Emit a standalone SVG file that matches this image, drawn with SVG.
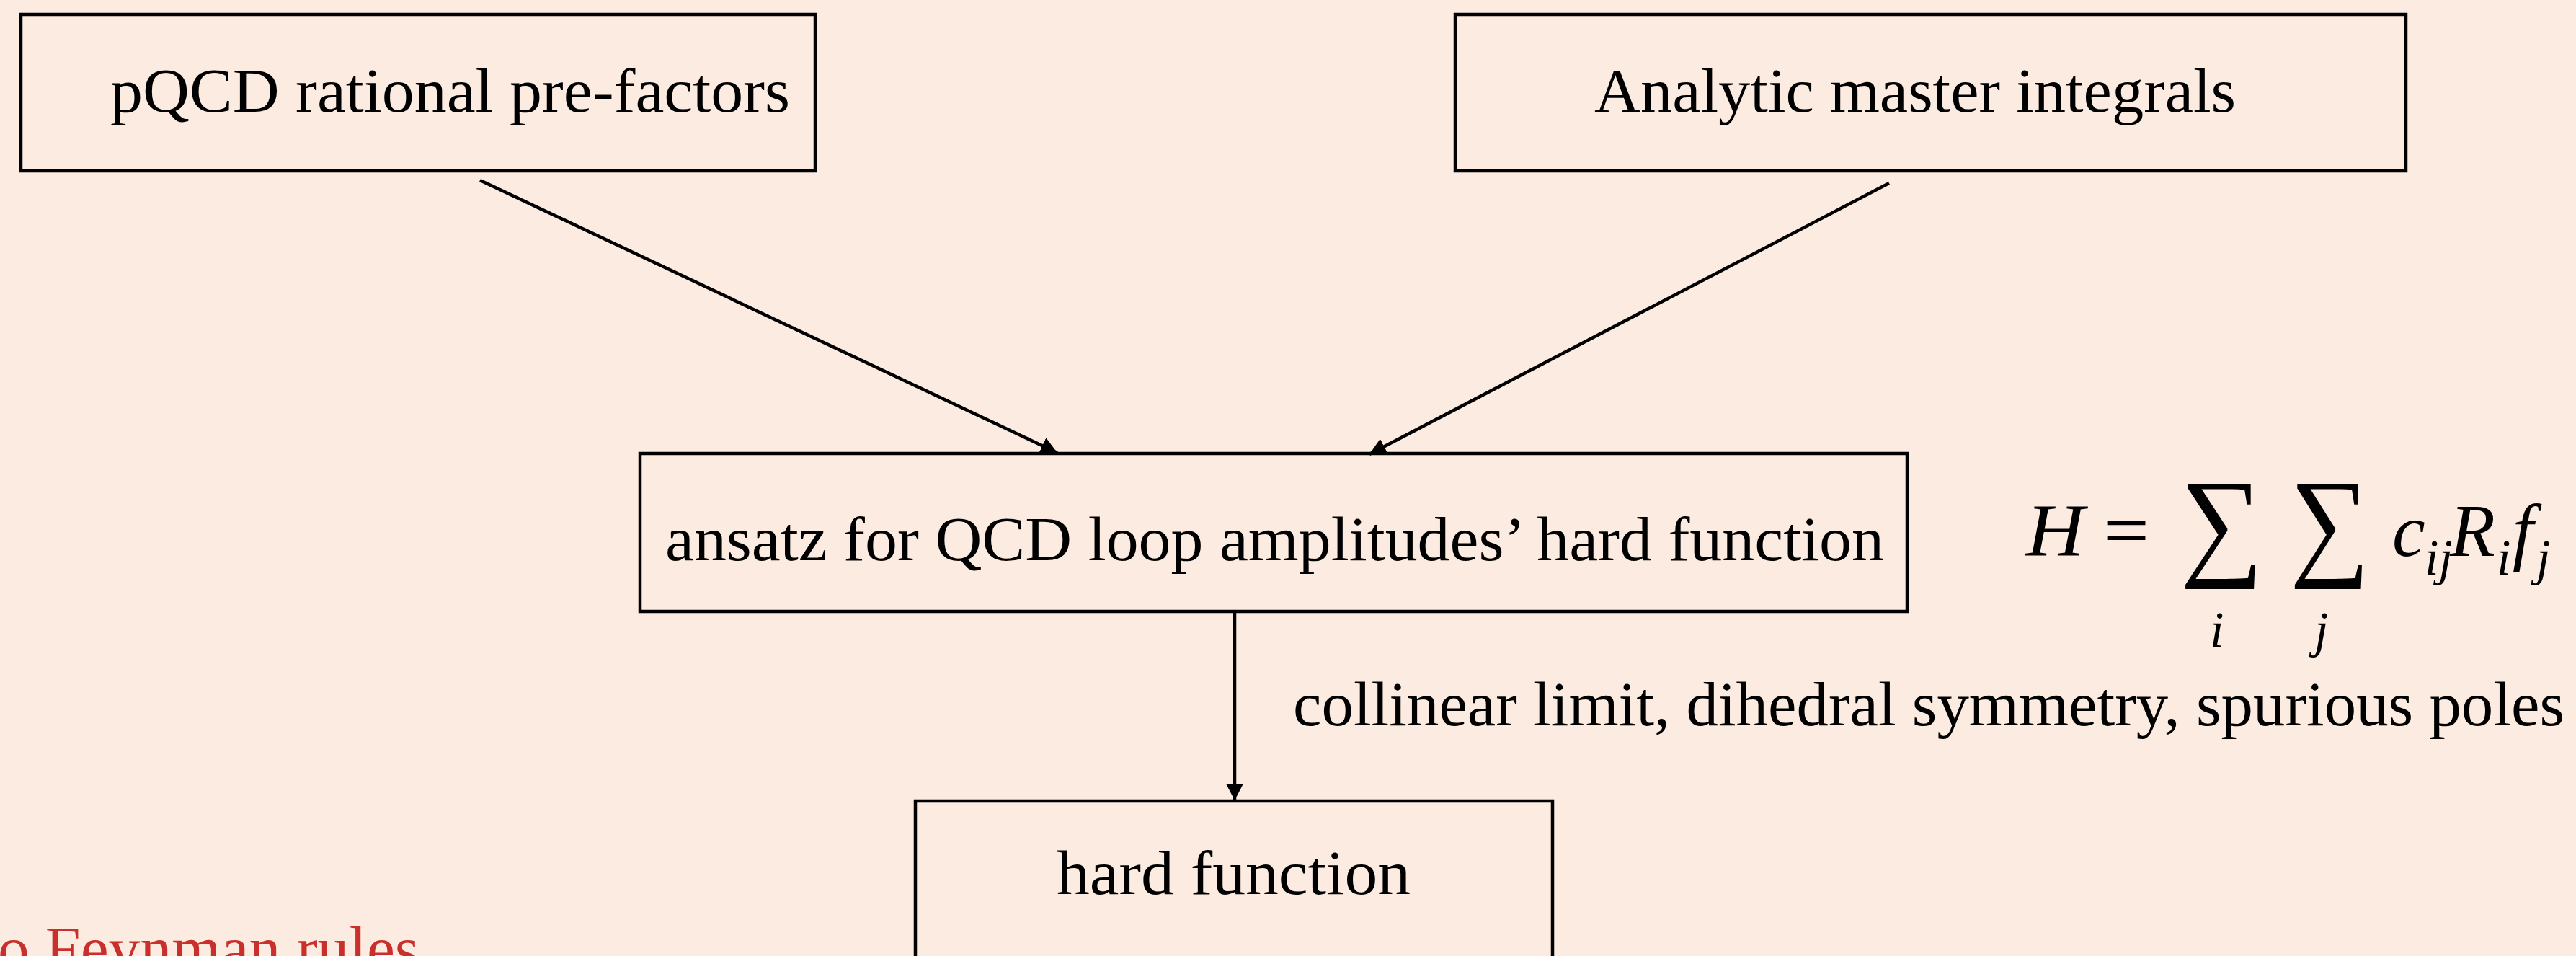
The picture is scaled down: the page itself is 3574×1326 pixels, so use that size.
<svg xmlns="http://www.w3.org/2000/svg" width="3574" height="1326" viewBox="0 0 3574 1326">
  <defs>
    <marker id="arrow" markerUnits="userSpaceOnUse" markerWidth="24" markerHeight="24" refX="23" refY="12" orient="auto" viewBox="0 0 24 24">
      <path d="M0,0 L23,12 L0,24 z" fill="#000"/>
    </marker>
    <style>
      .box { fill: none; stroke: #000; stroke-width: 4.5; }
      .lbl { font-family: "Liberation Serif", "Times New Roman", serif; font-size: 86px; fill: #000; }
      .edge { stroke: #000; stroke-width: 4.5; fill: none; marker-end: url(#arrow); }
      .math { font-family: "Liberation Serif", "Times New Roman", serif; font-style: italic; fill: #000; }
      .note { font-family: "Liberation Serif", "Times New Roman", serif; font-size: 86px; fill: #c9302c; }
    </style>
  </defs>

  <rect width="3574" height="1326" fill="#fcebe1"/>

  <!-- inputs -->
  <g id="prefactors">
    <rect class="box" x="29" y="20" width="1102" height="217"/>
    <text class="lbl" x="153" y="155" textLength="943" lengthAdjust="spacingAndGlyphs">pQCD rational pre-factors</text>
  </g>
  <g id="masters">
    <rect class="box" x="2019" y="20" width="1319" height="217"/>
    <text class="lbl" x="2212" y="155" textLength="890" lengthAdjust="spacingAndGlyphs">Analytic master integrals</text>
  </g>

  <!-- ansatz -->
  <g id="ansatz">
    <rect class="box" x="888" y="629" width="1758" height="219"/>
    <text class="lbl" x="923" y="777" textLength="1691" lengthAdjust="spacingAndGlyphs">ansatz for QCD loop amplitudes’ hard function</text>
  </g>

  <!-- result -->
  <g id="hard">
    <rect class="box" x="1270" y="1111" width="884" height="260"/>
    <text class="lbl" x="1466" y="1240" textLength="491" lengthAdjust="spacingAndGlyphs">hard function</text>
  </g>

  <!-- H = sum_i sum_j c_ij R_i f_j -->
  <g id="formula">
    <text class="math" x="2811" y="771" font-size="103" textLength="81" lengthAdjust="spacingAndGlyphs">H</text>
    <text x="2918" y="771" font-family="Liberation Serif, serif" font-size="103" textLength="64" lengthAdjust="spacingAndGlyphs">=</text>
    <text x="3025" y="781" font-family="Liberation Serif, serif" font-size="168" textLength="115" lengthAdjust="spacingAndGlyphs">∑</text>
    <text x="3177" y="781" font-family="Liberation Serif, serif" font-size="168" textLength="111" lengthAdjust="spacingAndGlyphs">∑</text>
    <text class="math" x="3066" y="897" font-size="70">i</text>
    <text class="math" x="3211" y="897" font-size="70">j</text>
    <text class="math" x="3319" y="771" font-size="103">c</text>
    <text class="math" x="3364" y="797" font-size="70">ij</text>
    <text class="math" x="3399" y="771" font-size="103">R</text>
    <text class="math" x="3464" y="797" font-size="70">i</text>
    <text class="math" x="3486" y="771" font-size="103">f</text>
    <text class="math" x="3519" y="797" font-size="70">j</text>
  </g>

  <!-- connectors -->
  <g id="connectors">
    <line class="edge" x1="666" y1="250" x2="1467" y2="628"/>
    <line class="edge" x1="2621" y1="254" x2="1900" y2="630"/>
    <line class="edge" x1="1713" y1="848" x2="1713" y2="1110"/>
  </g>

  <text class="lbl" x="1794" y="1006" font-size="82" textLength="1764" lengthAdjust="spacingAndGlyphs">collinear limit, dihedral symmetry, spurious poles</text>

  <text class="note" x="-3" y="1345" textLength="585" lengthAdjust="spacingAndGlyphs">o Feynman rules</text>
</svg>
